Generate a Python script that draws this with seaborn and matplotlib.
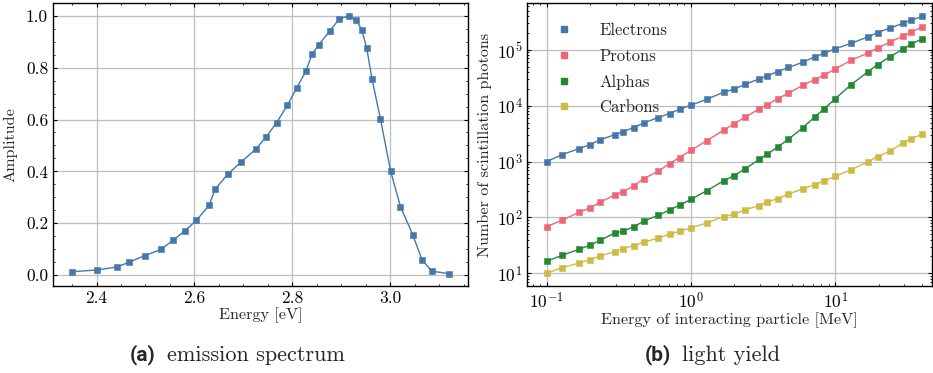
import matplotlib
matplotlib.use("Agg")
import matplotlib.pyplot as plt
from matplotlib.ticker import AutoMinorLocator, MultipleLocator, LogLocator, NullFormatter
from matplotlib.lines import Line2D
import seaborn as sns
import pandas as pd

# (a) emission spectrum
energy_ev = [2.350, 2.400, 2.442, 2.467, 2.499, 2.532, 2.556, 2.581, 2.604, 2.630,
             2.642, 2.668, 2.696, 2.725, 2.747, 2.768, 2.790, 2.809, 2.828, 2.840,
             2.854, 2.877, 2.896, 2.916, 2.931, 2.942, 2.952, 2.963, 2.980, 3.001,
             3.021, 3.046, 3.065, 3.085, 3.120]
amplitude = [0.013, 0.019, 0.031, 0.050, 0.075, 0.099, 0.134, 0.171, 0.211, 0.269,
             0.330, 0.389, 0.437, 0.485, 0.534, 0.588, 0.655, 0.722, 0.787, 0.851,
             0.888, 0.943, 0.988, 1.000, 0.983, 0.946, 0.876, 0.755, 0.603, 0.400,
             0.264, 0.156, 0.059, 0.015, 0.005]

# (b) light yield
energy_mev = [0.1, 0.128, 0.168, 0.199, 0.235, 0.297, 0.336, 0.400, 0.472, 0.593,
              0.710, 0.832, 1.0, 1.29, 1.68, 1.99, 2.38, 2.98, 3.37, 3.99,
              4.73, 5.97, 7.19, 8.38, 10.0, 12.9, 16.9, 19.6, 23.8, 29.6,
              33.4, 39.8]
electrons = [1000, 1334, 1709, 2015, 2442, 3045, 3400, 4063, 4929, 6143,
             7244, 8654, 10210, 13070, 17450, 19760, 24280, 30240, 34230, 40920,
             48290, 60140, 74930, 87150, 104100, 131600, 170900, 204300, 244300, 300500,
             339800, 395300]
protons = [68.5, 89, 124, 148, 187, 253, 286, 362, 496, 671,
           921, 1180, 1597, 2378, 3640, 4795, 6224, 8894, 10350, 13440,
           16740, 23290, 29430, 35180, 45700, 65330, 88360, 107100, 137200, 178200,
           207200, 254500]
alphas = [16.4, 21.0, 26.9, 31.7, 39.0, 52.7, 56.5, 67.6, 86.5, 109,
          136, 165, 211, 302, 451, 562, 749, 1102, 1353, 1831,
          2513, 4063, 6308, 8780, 13440, 23940, 40920, 54600, 74930, 104100,
          126300, 157300]
carbons = [10, 12.6, 15.3, 17.6, 20.4, 24.4, 27.7, 30.9, 36.4, 42.4,
           50.0, 56.5, 64.9, 79.6, 103.5, 114, 138, 163, 190, 217,
           264, 324, 387, 451, 546, 719, 1000, 1230, 1532, 2188,
           2546, 3089]
particles = ["Electrons", "Protons", "Alphas", "Carbons"]
colors = ["#4477AA", "#EE6677", "#228833", "#CCBB44"]

sns.set_style("ticks")
plt.rcParams["font.family"] = ["cmr10", "DejaVu Serif"]
plt.rcParams["mathtext.fontset"] = "cm"
plt.rcParams["axes.formatter.use_mathtext"] = True
plt.rcParams["font.size"] = 12
plt.rcParams["xtick.labelsize"] = 12.5
plt.rcParams["ytick.labelsize"] = 12.5
plt.rcParams["axes.labelsize"] = 11.7
plt.rcParams["axes.linewidth"] = 1.0
plt.rcParams["xtick.direction"] = "in"
plt.rcParams["ytick.direction"] = "in"
plt.rcParams["xtick.top"] = True
plt.rcParams["ytick.right"] = True
plt.rcParams["xtick.minor.visible"] = True
plt.rcParams["ytick.minor.visible"] = True
plt.rcParams["xtick.major.size"] = 3
plt.rcParams["ytick.major.size"] = 3
plt.rcParams["xtick.minor.size"] = 1.5
plt.rcParams["ytick.minor.size"] = 1.5
plt.rcParams["xtick.color"] = "black"
plt.rcParams["ytick.color"] = "black"
plt.rcParams["axes.edgecolor"] = "black"

fig = plt.figure(figsize=(9.33, 3.73), dpi=100)
ax1 = fig.add_axes([0.0568, 0.2332, 0.4448, 0.759])
ax2 = fig.add_axes([0.5652, 0.2332, 0.4340, 0.759])

# emission spectrum
spec = pd.DataFrame({"energy": energy_ev, "amplitude": amplitude})
sns.lineplot(data=spec, x="energy", y="amplitude", ax=ax1, color="#4477AA",
             lw=1.0, marker="s", markersize=4.2, markeredgewidth=0.4,
             markeredgecolor="#4477AA", estimator=None, sort=False)
ax1.set_xlim(2.311, 3.159)
ax1.set_ylim(-0.0425, 1.05)
ax1.xaxis.set_major_locator(MultipleLocator(0.2))
ax1.xaxis.set_minor_locator(AutoMinorLocator(4))
ax1.yaxis.set_major_locator(MultipleLocator(0.2))
ax1.yaxis.set_minor_locator(AutoMinorLocator(4))
ax1.xaxis.set_major_formatter(plt.FormatStrFormatter("%.1f"))
ax1.yaxis.set_major_formatter(plt.FormatStrFormatter("%.1f"))
ax1.grid(True, which="major", color="#bdbdbd", lw=0.9)
ax1.set_axisbelow(True)
ax1.set_xlabel("Energy [eV]", labelpad=1)
ax1.set_ylabel("Amplitude", labelpad=6)

# light yield
rows = []
for name, vals in zip(particles, [electrons, protons, alphas, carbons]):
    for e, v in zip(energy_mev, vals):
        rows.append({"energy": e, "photons": v, "particle": name})
yield_df = pd.DataFrame(rows)
palette = dict(zip(particles, colors))
sns.lineplot(data=yield_df, x="energy", y="photons", hue="particle", hue_order=particles,
             palette=palette, ax=ax2, lw=1.0, marker="s", markersize=4.2,
             markeredgewidth=0.4, estimator=None, legend=False)
for line, c in zip(ax2.lines, colors):
    line.set_markeredgecolor(c)
ax2.set_xscale("log")
ax2.set_yscale("log")
ax2.set_xlim(10 ** -1.134, 10 ** 1.671)
ax2.set_ylim(10 ** 0.772, 10 ** 5.84)
ax2.yaxis.set_major_locator(LogLocator(base=10, numticks=10))
ax2.yaxis.set_minor_locator(LogLocator(base=10, subs=range(2, 10), numticks=20))
ax2.yaxis.set_minor_formatter(NullFormatter())
ax2.xaxis.set_minor_formatter(NullFormatter())
ax2.grid(True, which="major", color="#bdbdbd", lw=0.9)
ax2.set_axisbelow(True)
ax2.set_xlabel("Energy of interacting particle [MeV]", labelpad=1)
ax2.set_ylabel("Number of scintillation photons", labelpad=3)
handles = [Line2D([], [], ls="none", marker="s", markersize=4.2, color=c) for c in colors]
ax2.legend(handles, particles, loc="upper left", frameon=False, handletextpad=1.1,
           labelspacing=0.62, borderaxespad=0.8, fontsize=12)

# captions
fig.text(0.1393, 0.048, "(a)", fontsize=15, fontweight="bold", family="Roboto", va="center")
fig.text(0.1787, 0.048, "emission spectrum", fontsize=16, va="center")
fig.text(0.6913, 0.048, "(b)", fontsize=15, fontweight="bold", family="Roboto", va="center")
fig.text(0.7307, 0.048, "light yield", fontsize=16, va="center")

fig.savefig("out.png", dpi=100)
